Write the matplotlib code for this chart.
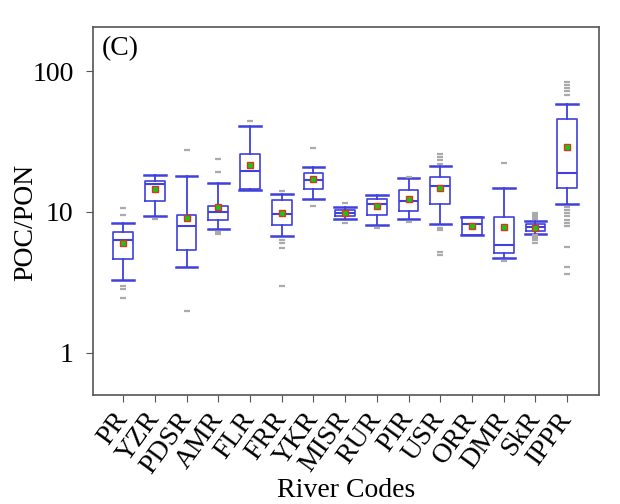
import matplotlib
matplotlib.use("Agg")
import matplotlib.pyplot as plt
import matplotlib.transforms as mtransforms
from matplotlib.ticker import FixedLocator, FixedFormatter, NullLocator

# River codes and box statistics
rivers = ["PR", "YZR", "PDSR", "AMR", "FLR", "FRR", "YKR", "MISR",
          "RUR", "PIR", "USR", "ORR", "DMR", "SkR", "IPPR"]
whislo = [3.3, 9.3, 4.05, 7.6, 14.3, 6.7, 12.3, 8.9, 8.1, 8.9, 8.2, 6.87, 4.67, 7.0, 11.3]
q1 = [4.6, 12.0, 5.4, 8.7, 14.5, 8.1, 14.5, 9.3, 9.5, 10.2, 11.4, 6.87, 5.14, 7.37, 14.7]
med = [6.3, 15.8, 7.9, 10.05, 19.5, 9.7, 16.9, 9.9, 11.4, 12.0, 15.4, 8.18, 5.84, 7.79, 19.0]
q3 = [7.25, 16.7, 9.5, 11.0, 25.8, 12.2, 18.8, 10.4, 12.3, 14.2, 17.8, 9.17, 9.17, 8.22, 45.7]
whishi = [8.4, 18.3, 18.1, 16.1, 40.7, 13.4, 20.7, 10.9, 13.2, 17.3, 21.2, 9.17, 14.9, 8.68, 58.1]
means = [6.05, 14.5, 9.0, 10.9, 21.5, 9.8, 17.1, 9.9, 11.0, 12.4, 14.9, 8.0, 7.87, 7.7, 29.0]
fliers = [
    [10.6, 9.5, 2.98, 2.84, 2.45],
    [8.9],
    [27.5, 1.99],
    [23.7, 19.3, 7.24, 6.98],
    [44.2],
    [14.1, 6.33, 6.0, 5.53, 3.0],
    [28.3, 11.1],
    [11.6, 8.4],
    [7.66],
    [17.8, 8.5],
    [25.9, 24.5, 23.2, 21.9, 7.66, 7.5, 5.22, 4.96],
    [],
    [22.1, 4.5],
    [9.8, 9.5, 9.2, 9.0, 8.9, 6.9, 6.7, 6.5, 6.3, 6.0],
    [84, 80, 76, 72, 68, 10.9, 10.3, 9.8, 9.3, 8.8, 8.3, 7.9, 5.68, 4.05, 3.6],
]

plt.rcParams["font.family"] = ["Liberation Serif", "DejaVu Serif"]

stats = []
for i in range(len(rivers)):
    stats.append({"whislo": whislo[i], "q1": q1[i], "med": med[i], "q3": q3[i],
                  "whishi": whishi[i], "mean": means[i], "fliers": fliers[i],
                  "label": rivers[i]})

blue = "#4040dd"
fig = plt.figure(figsize=(6.2, 5.04), dpi=100)
ax = fig.add_axes([0.15, 0.216, 0.816, 0.73])

ax.bxp(stats, positions=range(1, len(rivers) + 1), widths=0.62, showmeans=True,
       boxprops=dict(color=blue, linewidth=1.2),
       medianprops=dict(color=blue, linewidth=1.5),
       whiskerprops=dict(color=blue, linewidth=1.3),
       capprops=dict(color=blue, linewidth=1.8),
       capwidths=0.68,
       meanprops=dict(marker="s", markerfacecolor="#11cc11", markeredgecolor="#dd3322",
                      markersize=5, markeredgewidth=1.0),
       flierprops=dict(marker="_", markeredgecolor="#aaaaaa", markersize=5,
                       markeredgewidth=1.6))

ax.set_yscale("log")
ax.set_ylim(0.5, 205)
ax.set_xlim(0.05, 16.0)
ax.yaxis.set_major_locator(FixedLocator([1, 10, 100]))
ax.yaxis.set_major_formatter(FixedFormatter(["1", "10", "100"]))
ax.yaxis.set_minor_locator(NullLocator())

ax.set_xticks(range(1, len(rivers) + 1))
ax.set_xticklabels(rivers, rotation=54, ha="right", va="center",
                   rotation_mode="anchor", fontsize=20)
shift = mtransforms.ScaledTranslation(0.07, 0, fig.dpi_scale_trans)
for lab in ax.get_xticklabels():
    lab.set_transform(lab.get_transform() + shift)
ax.tick_params(axis="y", labelsize=20, length=5, color="#555555", pad=9)
ax.tick_params(axis="x", length=5, color="#555555", pad=9)
for sp in ax.spines.values():
    sp.set_color("#555555")
    sp.set_linewidth(1.2)

ax.set_ylabel("POC/PON", fontsize=20)
ax.yaxis.set_label_coords(-0.108, 0.47)
ax.set_xlabel("River Codes", fontsize=20, labelpad=0)
ax.text(0.018, 0.975, "(C)", transform=ax.transAxes, fontsize=20,
        va="top", ha="left")

plt.savefig("out.png")
plt.close()
